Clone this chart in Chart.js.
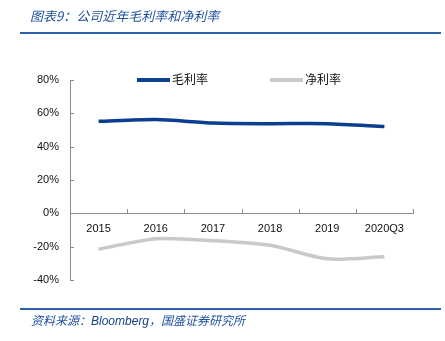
<!DOCTYPE html>
<html>
<head>
<meta charset="utf-8">
<script src="https://cdn.jsdelivr.net/npm/chart.js@4/dist/chart.umd.min.js"></script>
<style>
  body { margin: 0; background: #fff; }
  #wrap { position: relative; width: 445px; height: 341px; overflow: hidden; }
  #chart { position: absolute; left: 0; top: 0; }
  .cap { position: absolute; font-family: "Noto Sans CJK SC", sans-serif; font-style: italic; color: #1f4f9e; white-space: nowrap; }
  #title { left: 30px; top: 6px; font-size: 13px; }
  #src { left: 31px; top: 311px; font-size: 12px; }
  #src b { font-family: "Liberation Sans", Arial, sans-serif; font-weight: normal; color: #1a3f8a; }
  .rule { position: absolute; left: 20px; width: 421px; height: 2px; background: #2f62ad; }
  .leg { position: absolute; top: 70px; font-family: "Noto Sans CJK SC", sans-serif; font-size: 12px; color: #111; white-space: nowrap; }
  .leg i { display: inline-block; width: 33px; height: 4px; vertical-align: middle; margin-right: 2px; position: relative; top: -1px; }
</style>
</head>
<body>
<div id="wrap">
  <canvas id="chart" width="445" height="341"></canvas>
  <div id="title" class="cap">图表9：公司近年毛利率和净利率</div>
  <div class="rule" style="top:32px"></div>
  <div class="rule" style="top:308px"></div>
  <div id="src" class="cap">资料来源：<b>Bloomberg</b>，国盛证券研究所</div>
  <div id="legend"></div>
</div>
<script>
// data
const categories = ['2015', '2016', '2017', '2018', '2019', '2020Q3'];
const grossMargin = [55.2, 56.3, 54.2, 53.8, 53.8, 52.1];
const netMargin = [-21.5, -15.2, -16.4, -19.2, -27.3, -26.0];
const seriesNames = ['毛利率', '净利率'];
const seriesColors = ['#0b3d91', '#c9c9c9'];
const yTicks = [-40, -20, 0, 20, 40, 60, 80];

// legend in html
const legendX = [137, 270];
seriesNames.forEach(function (name, i) {
  const d = document.createElement('div');
  d.className = 'leg';
  d.style.left = legendX[i] + 'px';
  d.innerHTML = '<i style="background:' + seriesColors[i] + '"></i>' + name;
  document.getElementById('legend').appendChild(d);
});

// short tick marks drawn inside the axes
const innerTicks = {
  id: 'innerTicks',
  afterDraw(chart) {
    const ctx = chart.ctx;
    const x = chart.scales.x, y = chart.scales.y;
    ctx.save();
    ctx.strokeStyle = '#8c8c8c';
    ctx.lineWidth = 1;
    ctx.beginPath();
    yTicks.forEach(function (v) {
      const py = Math.round(y.getPixelForValue(v)) + 0.5;
      ctx.moveTo(x.left, py);
      ctx.lineTo(x.left + 4, py);
    });
    const y0 = Math.round(y.getPixelForValue(0));
    const step = (x.right - x.left) / categories.length;
    for (let i = 1; i <= categories.length; i++) {
      const px = Math.round(x.left + step * i) + 0.5;
      ctx.moveTo(px, y0);
      ctx.lineTo(px, y0 - 4);
    }
    ctx.stroke();
    ctx.restore();
  }
};

const ctx = document.getElementById('chart').getContext('2d');
const chart = new Chart(ctx, {
  type: 'line',
  data: {
    labels: categories,
    datasets: [{
      label: seriesNames[0],
      data: grossMargin,
      borderColor: seriesColors[0],
      borderWidth: 3.5,
      pointRadius: 0,
      tension: 0.25
    }, {
      label: seriesNames[1],
      data: netMargin,
      borderColor: seriesColors[1],
      borderWidth: 3.5,
      pointRadius: 0,
      tension: 0.25
    }]
  },
  options: {
    responsive: false,
    animation: false,
    layout: { padding: { left: 0, right: 32, top: 80, bottom: 61 } },
    plugins: { legend: { display: false }, tooltip: { enabled: false } },
    scales: {
      x: {
        position: { y: 0 },
        offset: true,
        grid: { display: true, drawOnChartArea: false, drawTicks: false, offset: true },
        border: { color: '#8c8c8c', width: 1 },
        ticks: {
          color: '#111',
          padding: 9,
          maxRotation: 0,
          font: { family: '"Liberation Sans", Arial, sans-serif', size: 11 }
        }
      },
      y: {
        min: -40,
        max: 80,
        afterFit(scale) { scale.width = 70; },
        afterBuildTicks(scale) { scale.ticks = yTicks.map(v => ({ value: v })); },
        grid: { drawOnChartArea: false, drawTicks: false },
        border: { color: '#8c8c8c', width: 1 },
        ticks: {
          color: '#111',
          padding: 11,
          font: { family: '"Liberation Sans", Arial, sans-serif', size: 11 },
          callback: v => v + '%'
        }
      }
    }
  },
  plugins: [innerTicks]
});
</script>
</body>
</html>
